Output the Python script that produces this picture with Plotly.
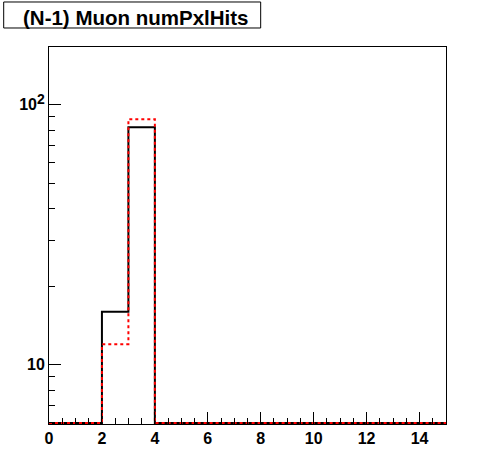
import math
import plotly.graph_objects as go

# Histogram: (N-1) Muon numPxlHits, 15 bins from 0 to 15
bin_edges = list(range(0, 16))
black_counts = [0, 0, 16, 82, 0, 0, 0, 0, 0, 0, 0, 0, 0, 0, 0]
red_counts = [0, 0, 12, 88, 0, 0, 0, 0, 0, 0, 0, 0, 0, 0, 0]

y_major_vals = [10, 100]
y_major_text = ["10", "10<sup><span style='font-size:14px'>2</span></sup>"]
y_minor_vals = [6, 7, 8, 9, 20, 30, 40, 50, 60, 70, 80, 90]
title_text = "(N-1) Muon numPxlHits"

y_floor = 5.976      # empty bins are drawn on the frame's floor
y_max = 166.9


def step_xy(counts):
    xs = list(bin_edges)
    ys = [c if c > 0 else y_floor for c in counts]
    ys = ys + [ys[-1]]
    return xs, ys


fig = go.Figure()
bx, by = step_xy(black_counts)
fig.add_trace(go.Scatter(x=bx, y=by, mode="lines", line_shape="hv",
                         line=dict(color="black", width=2), showlegend=False, hoverinfo="skip"))
rx, ry = step_xy(red_counts)
fig.add_trace(go.Scatter(x=rx, y=ry, mode="lines", line_shape="hv",
                         line=dict(color="#ff0000", width=2, dash="3px,3px"), showlegend=False, hoverinfo="skip"))

tfont = dict(family="Liberation Sans, Arial, sans-serif", size=16, color="black", weight="bold")

fig.update_layout(
    width=496, height=472,
    margin=dict(l=49, r=50, t=47, b=48, autoexpand=False),
    paper_bgcolor="white", plot_bgcolor="white",
    font=tfont,
    xaxis=dict(range=[0, 15], tick0=0, dtick=2, ticks="inside", ticklen=12, tickwidth=1,
               tickcolor="black", showline=True, linecolor="black", linewidth=1, mirror=True,
               showgrid=False, zeroline=False, tickfont=tfont,
               minor=dict(dtick=0.5, tick0=0, ticks="inside", ticklen=6, tickcolor="black",
                          tickwidth=1, showgrid=False)),
    yaxis=dict(type="log", range=[math.log10(y_floor) - 0.004, math.log10(y_max)], tickmode="array",
               tickvals=y_major_vals, ticktext=y_major_text, ticks="inside", ticklen=12, tickwidth=1,
               tickcolor="black", showline=True, linecolor="black", linewidth=1, mirror=True,
               showgrid=False, zeroline=False, tickfont=tfont,
               minor=dict(tickmode="array", tickvals=y_minor_vals, ticks="inside", ticklen=6,
                          tickcolor="black", tickwidth=1, showgrid=False)),
)

# title box
fig.add_shape(type="rect", xref="paper", yref="paper",
              x0=-0.1141, x1=0.5332, y0=1.0504, y1=1.1194,
              line=dict(color="black", width=1), fillcolor="white", layer="above")
fig.add_annotation(text="<b>" + title_text + "</b>", xref="paper", yref="paper",
                   x=0.2184, y=1.0777, xanchor="center", yanchor="middle", showarrow=False,
                   font=dict(family="Liberation Sans", size=20.5, color="black"))

fig.write_html("out.html", config={"displayModeBar": False},
               post_script="document.body.style.margin='0';document.body.style.padding='0';")
